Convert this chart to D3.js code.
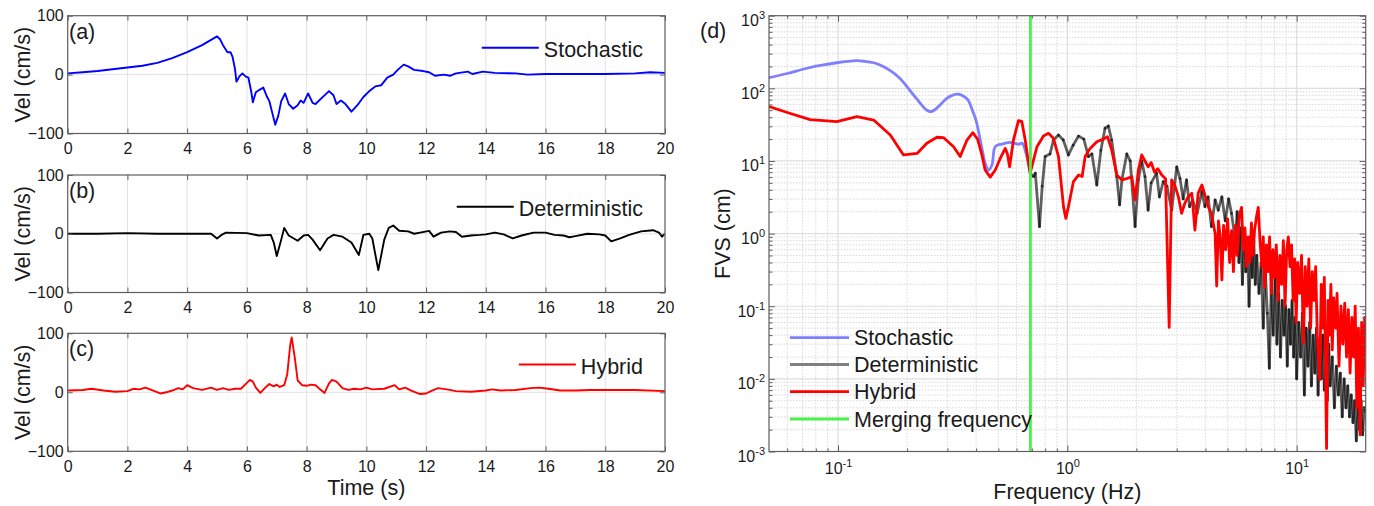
<!DOCTYPE html>
<html><head><meta charset="utf-8">
<script src="https://cdn.jsdelivr.net/npm/d3@7"></script>
<style>
body{margin:0;background:#fff}
svg{display:block}
text{font-family:"Liberation Sans",Arial,sans-serif;fill:#1a1a1a}
</style>
</head><body>
<svg id="chart" width="1374" height="506"></svg>
<script>
// ---------------- DATA ----------------
const timeTicks = [0,2,4,6,8,10,12,14,16,18,20];
const velTicks = [-100,0,100];

const stochTime = [0,0.5,1,1.5,2,2.5,3,3.5,4,4.5,5.0,5.1,5.2,5.35,5.45,5.52,5.6,5.65,5.75,5.85,5.95,6.05,6.15,6.2,6.3,6.45,6.55,6.65,6.75,6.85,6.95,7.05,7.15,7.28,7.4,7.55,7.7,7.8,7.9,8.05,8.2,8.3,8.5,8.75,8.9,9.0,9.15,9.3,9.5,9.7,9.9,10.1,10.3,10.5,10.7,10.9,11.05,11.25,11.4,11.6,11.9,12.1,12.3,12.6,12.8,13.0,13.4,13.55,13.9,14.3,15,15.4,16,17,18,19,19.5,20];
const stochVel = [2,4,6,9,12,15,20,28,38,50,65,60,50,38,38,30,10,-12,-3,2,-3,-5,-30,-47,-30,-25,-22,-35,-45,-65,-85,-70,-45,-32,-50,-58,-52,-44,-48,-32,-48,-50,-40,-28,-35,-50,-44,-50,-63,-52,-38,-28,-20,-18,-5,0,8,17,14,8,6,4,-2,0,-2,2,5,1,5,3,2,0,1,1,1,2,4,3];

const detTime = [0,1,2,3,4,4.8,5.0,5.15,5.3,6.0,6.4,6.8,6.9,7.0,7.15,7.25,7.4,7.7,7.9,8.05,8.2,8.45,8.7,8.9,9.2,9.5,9.75,9.9,10.1,10.2,10.4,10.6,10.75,10.9,11.1,11.4,11.6,11.8,12.1,12.25,12.5,12.8,13.0,13.2,13.5,13.8,14.0,14.3,14.6,14.9,15.2,15.6,16.0,16.3,16.6,16.8,17.0,17.4,17.8,18.0,18.2,18.5,18.8,19.2,19.6,19.8,19.9,20];
const detVel = [0,0,1,0,0,0,-8,-2,2,1,-3,-2,-15,-38,-10,10,-3,-12,-3,-2,-10,-28,-8,-2,-5,-15,-36,-2,0,-8,-62,-10,10,14,5,4,0,2,5,-5,2,4,3,-5,-3,-2,-1,2,-1,-8,-3,2,2,-2,-3,-6,-4,0,-1,-3,-13,-8,-2,4,6,2,-5,0];

const hybTime = [0,0.5,0.8,1.2,1.6,2.0,2.2,2.4,2.6,2.8,3.1,3.3,3.5,3.7,3.85,4.0,4.2,4.5,4.8,5.0,5.2,5.4,5.6,5.8,6.0,6.1,6.2,6.3,6.45,6.6,6.75,6.9,7.0,7.1,7.25,7.35,7.45,7.5,7.6,7.7,7.85,8.0,8.15,8.3,8.45,8.6,8.75,8.85,9.0,9.2,9.4,9.6,9.8,10.0,10.2,10.6,10.95,11.1,11.3,11.5,11.8,12.0,12.2,12.4,12.7,13.0,13.5,14.0,14.2,14.5,15.0,15.5,15.8,16.1,16.5,17.0,17.5,18,19,20];
const hybVel = [3,4,6,3,1,2,6,5,8,4,-2,0,3,7,5,12,7,4,8,4,7,4,6,6,16,21,18,8,-1,7,14,10,13,9,12,30,80,93,60,20,12,11,13,12,5,-1,15,21,18,7,4,6,5,8,5,6,12,5,8,3,-3,-2,3,7,5,2,1,3,5,3,4,7,8,6,3,3,4,4,4,2];

const freqMajor = [0.1,1,10];
const fvsMajor = [1e-3,1e-2,1e-1,1,1e1,1e2,1e3];
const mergingFreq = 0.69;

const stochFreq = [0.05,0.06,0.0733,0.085,0.0988,0.11,0.121,0.13,0.143,0.155,0.169,0.185,0.2,0.22,0.244,0.255,0.265,0.28,0.298,0.315,0.335,0.359,0.37,0.39,0.40,0.417,0.43,0.438,0.453,0.469,0.485,0.518,0.563,0.612,0.635,0.666,0.688];
const stochFvs = [140,160,189,208,225,235,240,236,225,205,175,140,105,72,50,48,51,60,73,80,83,75,68,45,36,19.4,12,9.3,7.5,8.8,15.7,17.1,18,17,17.5,11.5,7.1];

const detFreq = [0.688,0.712,0.725,0.756,0.777,0.80,0.84,0.870,0.915,0.96,
1.011,1.06,1.118,1.18,1.236,1.28,1.344,1.40,1.46,1.51,
1.56,1.643,1.69,1.73,1.816,1.88,1.974,2.04,2.11,2.18,
2.25,2.32,2.45,2.52,2.62,2.72,2.85,3.0,3.1,3.2,
3.31,3.41,3.52,3.68,3.86,3.98,4.11,4.25,4.41,4.55,
4.72,4.88,5.05,5.2,5.4,5.5,5.6,5.7,5.8,5.9,
6.0,6.1,6.2,6.3,6.4,6.5,6.6,6.7,6.85,7.0,
7.15,7.3,7.45,7.6,7.75,7.9,8.05,8.2,8.35,8.5,
8.65,8.8,8.95,9.1,9.25,9.4,9.55,9.7,9.85,10.0,
10.2,10.4,10.6,10.8,11.0,11.2,11.4,11.6,11.8,12.0,
12.2,12.4,12.6,12.8,13.0,13.2,13.4,13.6,13.8,14.0,
14.3,14.6,14.9,15.2,15.5,15.8,16.1,16.4,16.7,17.0,
17.3,17.6,17.9,18.2,18.5,18.8,19.1,19.4,19.7,20.0];
const detFvs = [6.8,6.1,6.8,1.25,4.5,11.5,12.5,19.4,22.8,19.4,
12.1,16.5,22,20,11.5,12.5,4.67,14,28.2,30.3,
19.4,6.1,2.48,5.5,12.5,10,1.25,5.5,10,6.1,
2.1,5,6.8,3.2,5.2,4.5,2.1,8.3,5.7,3.0,
5.5,2.35,2.9,1.9,3.8,2.35,3.2,1.25,2.9,2.1,
3.2,1.5,3.0,1.9,0.8,2.0,0.4,1.2,0.2,0.9,
0.3,0.7,0.1,0.6,0.25,0.8,0.2,0.5,0.15,0.4,
0.05,0.3,0.08,0.014,0.2,0.04,0.25,0.03,0.15,0.02,
0.12,0.04,0.1,0.015,0.09,0.03,0.12,0.02,0.07,0.01,
0.06,0.02,0.08,0.006,0.05,0.015,0.06,0.008,0.04,0.012,
0.05,0.006,0.03,0.01,0.04,0.007,0.025,0.005,0.03,0.008,
0.02,0.004,0.015,0.006,0.012,0.003,0.01,0.004,0.008,0.003,
0.006,0.0025,0.005,0.0014,0.004,0.002,0.005,0.0017,0.004,0.0035];

const hybFreq = [0.05,0.062,0.0756,0.0988,0.121,0.143,0.169,0.193,0.221,0.244,
0.270,0.288,0.319,0.341,0.365,0.387,0.406,0.424,0.438,0.461,
0.485,0.510,0.536,0.548,0.560,0.582,0.612,0.633,0.655,0.677,
0.688,0.737,0.787,0.827,0.870,0.915,0.962,0.985,1.011,1.063,
1.118,1.16,1.196,1.257,1.344,1.437,1.496,1.562,1.643,1.727,
1.816,1.910,1.974,2.04,2.11,2.18,2.25,2.32,2.40,2.48,
2.58,2.68,2.78,2.85,2.95,3.05,3.15,3.25,3.36,3.49,
3.60,3.72,3.86,3.98,4.11,4.25,4.41,4.48,4.56,4.64,
4.72,4.80,4.90,5.00,5.10,5.20,5.30,5.40,5.50,5.62,
5.75,5.85,5.95,6.05,6.15,6.25,6.35,6.45,6.55,6.68,
6.80,6.92,7.05,7.15,7.25,7.38,7.50,7.62,7.75,7.88,
8.0,8.15,8.3,8.45,8.6,8.75,8.9,9.05,9.2,9.35,
9.5,9.65,9.8,9.95,10.1,10.3,10.5,10.7,10.9,11.1,
11.3,11.5,11.7,11.9,12.1,12.3,12.6,12.8,13.0,13.2,
13.5,13.7,13.9,14.1,14.3,14.5,14.8,15.0,15.3,15.6,
15.9,16.2,16.5,16.8,17.1,17.4,17.7,18.0,18.3,18.6,
18.9,19.2,19.5,19.8,20.0];
const hybFvs = [56,45,37,34.7,40.7,36.6,22.8,12.1,12.7,17.5,
21.2,21,15.7,11.5,19.4,24.5,20,12.1,7.5,6.0,
7.5,10.9,14.9,12.5,8.3,19.4,35.9,35,19.4,9.3,
6.8,15.7,22.1,24,20.5,11.5,2.35,1.62,2.35,5.2,
6.4,6.1,11.5,14.9,18.4,20,21.6,14.1,6.4,5.5,
5.7,6.1,2.9,7.5,12.1,10,8.3,9.5,7,7.8,
6.4,5.7,0.051,5.5,4.5,3.2,1.9,2.6,3.2,3.6,
1.12,3.6,4.67,3.4,2.35,1.9,1.0,0.19,1.5,0.9,
0.23,1.3,0.6,1.6,0.4,1.1,0.3,1.3,0.5,1.8,
2.3,0.6,1.2,0.35,0.9,0.4,1.4,0.5,1.1,1.7,
2.3,0.8,0.35,0.9,0.18,0.7,0.3,0.9,0.15,0.6,
0.25,0.7,0.12,0.5,0.2,0.8,0.1,0.6,0.9,0.35,
0.7,0.12,0.45,0.06,0.4,0.15,0.5,0.031,0.35,0.1,
0.45,0.05,0.3,0.12,0.35,0.04,0.0097,0.2,0.05,0.25,
0.0011,0.12,0.04,0.2,0.025,0.13,0.05,0.15,0.015,0.1,
0.03,0.11,0.02,0.09,0.012,0.07,0.02,0.1,0.004,0.05,
0.0017,0.06,0.008,0.07,0.052];

// ---------------- DRAWING ----------------
const svg = d3.select("#chart");
const FRAME = "#5e5e5e";
const TICKFONT = 16, LABELFONT = 21.5;

// ----- left panels -----
const L = {x0: 67.7, x1: 665};
const xTime = d3.scaleLinear().domain([0,20]).range([L.x0, L.x1]);

const panels = [
  {top:15.7, bottom:133.5, t:stochTime, v:stochVel, color:"#0000ff", name:"Stochastic", tag:"(a)", legY:47.7},
  {top:175, bottom:292.5, t:detTime, v:detVel, color:"#000000", name:"Deterministic", tag:"(b)", legY:206.7},
  {top:333.3, bottom:451.3, t:hybTime, v:hybVel, color:"#ff0000", name:"Hybrid", tag:"(c)", legY:364.5}
];

panels.forEach((p, i) => {
  const y = d3.scaleLinear().domain([-100,100]).range([p.bottom, p.top]);
  const g = svg.append("g");
  g.append("g").selectAll("line").data(timeTicks.slice(1,-1)).join("line")
    .attr("x1", d=>xTime(d)).attr("x2", d=>xTime(d)).attr("y1", p.top).attr("y2", p.bottom)
    .attr("stroke", "#e2e2e2").attr("stroke-width", 1);
  g.append("g").selectAll("line").data(velTicks.slice(1,-1)).join("line")
    .attr("y1", d=>y(d)).attr("y2", d=>y(d)).attr("x1", L.x0).attr("x2", L.x1)
    .attr("stroke", "#e2e2e2").attr("stroke-width", 1);
  const cid = "clipL"+i;
  svg.append("clipPath").attr("id", cid).append("rect")
    .attr("x", L.x0).attr("y", p.top).attr("width", L.x1-L.x0).attr("height", p.bottom-p.top);
  const data = d3.zip(p.t, p.v);
  g.append("path").datum(data).attr("clip-path", `url(#${cid})`)
    .attr("fill","none").attr("stroke", p.color).attr("stroke-width", 1.9)
    .attr("stroke-linejoin","round")
    .attr("d", d3.line().x(d=>xTime(d[0])).y(d=>y(d[1])));
  const ax = g.append("g").attr("transform", `translate(0,${p.bottom})`)
    .call(d3.axisBottom(xTime).tickValues(timeTicks).tickSize(-5).tickPadding(9).tickFormat(d3.format("d")));
  const axT = g.append("g").attr("transform", `translate(0,${p.top})`)
    .call(d3.axisTop(xTime).tickValues(timeTicks).tickSize(-5).tickFormat(""));
  const ay = g.append("g").attr("transform", `translate(${L.x0},0)`)
    .call(d3.axisLeft(y).tickValues(velTicks).tickSize(-5).tickPadding(4).tickFormat(d3.format("d")));
  const ayR = g.append("g").attr("transform", `translate(${L.x1},0)`)
    .call(d3.axisRight(y).tickValues(velTicks).tickSize(-5).tickFormat(""));
  [ax, axT, ay, ayR].forEach(a => {
    a.select(".domain").remove();
    a.selectAll(".tick line").attr("stroke", FRAME);
    a.selectAll(".tick text").attr("font-size", TICKFONT).attr("fill", "#262626")
      .style("font-family", '"Liberation Sans",Arial,sans-serif');
  });
  g.append("rect").attr("x", L.x0).attr("y", p.top).attr("width", L.x1-L.x0).attr("height", p.bottom-p.top)
    .attr("fill","none").attr("stroke", FRAME).attr("stroke-width", 1.2);
  g.append("text").attr("transform", `translate(30,${(p.top+p.bottom)/2}) rotate(-90)`)
    .attr("text-anchor","middle").attr("font-size", LABELFONT).text("Vel (cm/s)");
  g.append("text").attr("x", 69).attr("y", p.top+23).attr("font-size", LABELFONT).text(p.tag);
  const lt = g.append("text").attr("x", 643).attr("y", p.legY+9).attr("text-anchor","end")
    .attr("font-size", LABELFONT).text(p.name);
  const tw = lt.node().getComputedTextLength();
  const lx2 = 643 - tw - 5;
  g.append("line").attr("x1", lx2-57).attr("x2", lx2).attr("y1", p.legY).attr("y2", p.legY)
    .attr("stroke", p.color).attr("stroke-width", 2);
});

svg.append("text").attr("x", (L.x0+L.x1)/2).attr("y", 495).attr("text-anchor","middle")
  .attr("font-size", LABELFONT).text("Time (s)");

// ----- right panel -----
const R = {x0: 769, x1: 1365.7, y0: 15.7, y1: 451.5};
const xF = d3.scaleLog().domain([0.05, 20]).range([R.x0, R.x1]);
const yF = d3.scaleLog().domain([1e-3, 1e3]).range([R.y1, R.y0]);

const freqMinor = [];
[0.01,0.1,1].forEach(b => { for (let k=2;k<=9;k++){ const v=+(b*k).toPrecision(3); if (v>0.05 && v<20) freqMinor.push(v);} });
const fvsMinor = [];
[1e-3,1e-2,1e-1,1,10,100].forEach(b => { for (let k=2;k<=9;k++) fvsMinor.push(+(b*k).toPrecision(3)); });

const gR = svg.append("g");
gR.append("g").selectAll("line").data(freqMinor).join("line")
  .attr("x1", d=>xF(d)).attr("x2", d=>xF(d)).attr("y1", R.y0).attr("y2", R.y1)
  .attr("stroke", "#cfcfcf").attr("stroke-width", 0.8).attr("stroke-dasharray","1.5,1.5");
gR.append("g").selectAll("line").data(fvsMinor).join("line")
  .attr("y1", d=>yF(d)).attr("y2", d=>yF(d)).attr("x1", R.x0).attr("x2", R.x1)
  .attr("stroke", "#cfcfcf").attr("stroke-width", 0.8).attr("stroke-dasharray","1.5,1.5");
gR.append("g").selectAll("line").data(freqMajor).join("line")
  .attr("x1", d=>xF(d)).attr("x2", d=>xF(d)).attr("y1", R.y0).attr("y2", R.y1)
  .attr("stroke", "#dedede").attr("stroke-width", 1.2);
gR.append("g").selectAll("line").data(fvsMajor.slice(1,-1)).join("line")
  .attr("y1", d=>yF(d)).attr("y2", d=>yF(d)).attr("x1", R.x0).attr("x2", R.x1)
  .attr("stroke", "#dedede").attr("stroke-width", 1.2);

svg.append("clipPath").attr("id","clipR").append("rect")
  .attr("x", R.x0).attr("y", R.y0).attr("width", R.x1-R.x0).attr("height", R.y1-R.y0);
const gLines = gR.append("g").attr("clip-path","url(#clipR)");

gLines.append("path").datum(d3.zip(stochFreq, stochFvs))
  .attr("fill","none").attr("stroke","#7f7fff").attr("stroke-width",2.8).attr("stroke-linejoin","round")
  .attr("d", d3.line().curve(d3.curveCatmullRom).x(d=>xF(d[0])).y(d=>yF(d[1])));
const detPts = d3.zip(detFreq, detFvs);
gLines.append("g").selectAll("line").data(d3.pairs(detPts)).join("line")
  .attr("x1", d=>xF(d[0][0])).attr("y1", d=>yF(d[0][1]))
  .attr("x2", d=>xF(d[1][0])).attr("y2", d=>yF(d[1][1]))
  .attr("stroke","#000").attr("stroke-opacity",0.62).attr("stroke-width",2.8).attr("stroke-linecap","round");
gLines.append("path").datum(d3.zip(hybFreq, hybFvs))
  .attr("fill","none").attr("stroke","#ff0000").attr("stroke-width",2.8).attr("stroke-linejoin","round")
  .attr("d", d3.line().x(d=>xF(d[0])).y(d=>yF(d[1])));
gLines.append("line").datum(mergingFreq)
  .attr("x1", d=>xF(d)).attr("x2", d=>xF(d)).attr("y1", R.y0).attr("y2", R.y1)
  .attr("stroke","#4cf04c").attr("stroke-width",2.8);

function styleAxis(a){ a.select(".domain").remove(); a.selectAll(".tick line").attr("stroke", FRAME); }
const supFmt = function(d){
  const t = d3.select(this);
  t.text("10").attr("font-size", TICKFONT).attr("fill","#262626").style("font-family",'"Liberation Sans",Arial,sans-serif');
  t.append("tspan").attr("dy", -7).attr("font-size", 11).text(String(Math.round(Math.log10(d))));
};
const axB = gR.append("g").attr("transform",`translate(0,${R.y1})`)
  .call(d3.axisBottom(xF).tickValues(freqMajor).tickSize(-6).tickPadding(11.5));
axB.selectAll(".tick text").each(supFmt);
styleAxis(axB);
const axBm = gR.append("g").attr("transform",`translate(0,${R.y1})`)
  .call(d3.axisBottom(xF).tickValues(freqMinor).tickSize(-3).tickFormat(""));
styleAxis(axBm);
const axTp = gR.append("g").attr("transform",`translate(0,${R.y0})`)
  .call(d3.axisTop(xF).tickValues(freqMajor).tickSize(-6).tickFormat(""));
styleAxis(axTp);
const axTm = gR.append("g").attr("transform",`translate(0,${R.y0})`)
  .call(d3.axisTop(xF).tickValues(freqMinor).tickSize(-3).tickFormat(""));
styleAxis(axTm);
const axL = gR.append("g").attr("transform",`translate(${R.x0},0)`)
  .call(d3.axisLeft(yF).tickValues(fvsMajor).tickSize(-6).tickPadding(4));
axL.selectAll(".tick text").each(supFmt).attr("dy","0.62em");
styleAxis(axL);
const axLm = gR.append("g").attr("transform",`translate(${R.x0},0)`)
  .call(d3.axisLeft(yF).tickValues(fvsMinor).tickSize(-3.5).tickFormat(""));
styleAxis(axLm);
const axR = gR.append("g").attr("transform",`translate(${R.x1},0)`)
  .call(d3.axisRight(yF).tickValues(fvsMajor).tickSize(-6).tickFormat(""));
styleAxis(axR);
const axRm = gR.append("g").attr("transform",`translate(${R.x1},0)`)
  .call(d3.axisRight(yF).tickValues(fvsMinor).tickSize(-3.5).tickFormat(""));
styleAxis(axRm);

gR.append("rect").attr("x", R.x0).attr("y", R.y0).attr("width", R.x1-R.x0).attr("height", R.y1-R.y0)
  .attr("fill","none").attr("stroke", FRAME).attr("stroke-width",1.2);

gR.append("text").attr("x", 700).attr("y", 38).attr("font-size", LABELFONT).text("(d)");
gR.append("text").attr("transform", `translate(730,${(R.y0+R.y1)/2}) rotate(-90)`)
  .attr("text-anchor","middle").attr("font-size", LABELFONT).text("FVS (cm)");
gR.append("text").attr("x", (R.x0+R.x1)/2).attr("y", 499).attr("text-anchor","middle")
  .attr("font-size", LABELFONT).text("Frequency (Hz)");

const legendNames = ["Stochastic","Deterministic","Hybrid","Merging frequency"];
const legendColors = ["#7f7fff","#808080","#ff0000","#4cf04c"];
const legYs = [337.7, 364.5, 391.7, 419];
const lg = gR.append("g");
legendNames.forEach((n,i) => {
  lg.append("line").attr("x1",790).attr("x2",849).attr("y1",legYs[i]).attr("y2",legYs[i])
    .attr("stroke",legendColors[i]).attr("stroke-width",2.8);
  lg.append("text").attr("x",854).attr("y",legYs[i]+7.5).attr("font-size",LABELFONT).text(n);
});
</script>
</body></html>
